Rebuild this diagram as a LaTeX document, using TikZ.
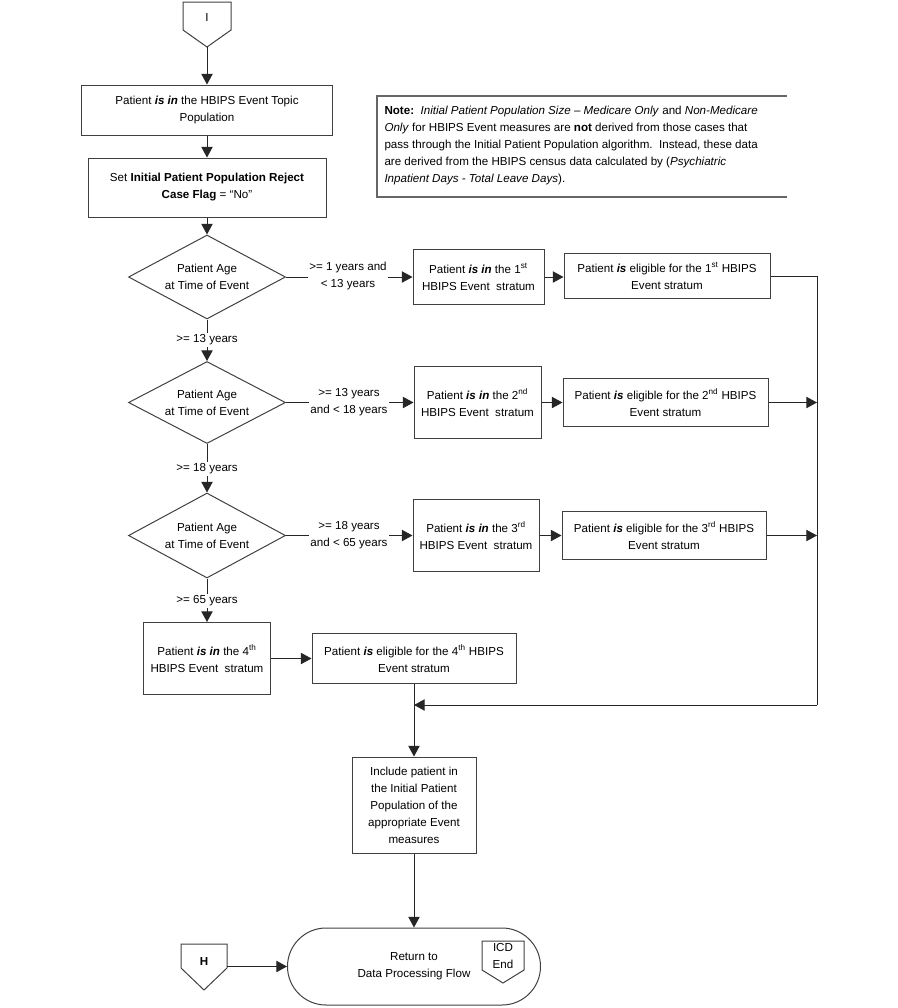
\documentclass[tikz,border=0pt]{standalone}
\usepackage{fontspec}
\setmainfont{Liberation Sans}
\usetikzlibrary{arrows.meta,shapes.geometric,shapes.misc}
\newcommand\pxu{0.75pt}
\begin{document}
\begin{tikzpicture}[x=0.75pt,y=-0.75pt,
  font=\fontsize{8.7pt}{12.75pt}\selectfont,
  line width=0.75pt,
  ln/.style={draw=black!85},
  arr/.style={ln,-{Triangle[length=8pt,width=8.5pt]}},
  sz/.style 2 args={minimum width=#1*\pxu, minimum height=#2*\pxu},
  box/.style={draw=black!75, rectangle, inner sep=0pt, align=center},
  dia/.style={draw=black!75, diamond, shape aspect=1.87, inner sep=0pt, align=center},
  lab/.style={fill=white, inner sep=1pt, align=center},
  pent/.style={draw=black!75, line join=miter},
  notel/.style={draw=black!60, line width=1.1pt},
]
\useasboundingbox (0,0) rectangle (898,1008);

% off-page connector I
\draw[pent] (183,2) -- (231,2) -- (231,30) -- (207,47) -- (183,30) -- cycle;
\coordinate (Ip) at (207,47);
\node[inner sep=0] (I) at (207,18) {I};

\node[box, sz={251}{50}] (b1) at (207,110) {Patient \textbf{\textit{is in}} the HBIPS Event Topic\\Population};
\node[box, sz={238}{59}] (b2) at (207,187.5) {Set \textbf{Initial Patient Population Reject}\\\textbf{Case Flag} = “No”};

% note
\draw[notel] (787,96) -- (377,96) -- (377,197) -- (787,197);
\node[anchor=north west, align=left, inner sep=0] (note) at (384,106)
{\textbf{Note:}\ \ \textit{Initial Patient Population Size – Medicare Only} and \textit{Non-Medicare}\\
\textit{Only} for HBIPS Event measures are \textbf{not} derived from those cases that\\
pass through the Initial Patient Population algorithm.\ \ Instead, these data\\
are derived from the HBIPS census data calculated by (\textit{Psychiatric}\\
\textit{Inpatient Days - Total Leave Days}).};

% diamonds
\node[dia, sz={157}{84}] (d1) at (207,277) {Patient Age\\at Time of Event};
\node[dia, sz={157}{82}] (d2) at (207,402.5) {Patient Age\\at Time of Event};
\node[dia, sz={157}{85}] (d3) at (207,535.5) {Patient Age\\at Time of Event};

% stratum boxes
\node[box, sz={131}{55}] (s1) at (478.5,277) {Patient \textbf{\textit{is in}} the 1\textsuperscript{st}\\HBIPS Event\ \ stratum};
\node[box, sz={127}{72}] (s2) at (477.5,402.5) {Patient \textbf{\textit{is in}} the 2\textsuperscript{nd}\\HBIPS Event\ \ stratum};
\node[box, sz={126}{72}] (s3) at (476,535.5) {Patient \textbf{\textit{is in}} the 3\textsuperscript{rd}\\HBIPS Event\ \ stratum};
\node[box, sz={127}{72}] (s4) at (207,658.5) {Patient \textbf{\textit{is in}} the 4\textsuperscript{th}\\HBIPS Event\ \ stratum};

\node[box, sz={206}{45}] (e1) at (667,276) {Patient \textbf{\textit{is}} eligible for the 1\textsuperscript{st} HBIPS\\Event stratum};
\node[box, sz={205}{48}] (e2) at (665.5,402.5) {Patient \textbf{\textit{is}} eligible for the 2\textsuperscript{nd} HBIPS\\Event stratum};
\node[box, sz={204}{48}] (e3) at (664,535.5) {Patient \textbf{\textit{is}} eligible for the 3\textsuperscript{rd} HBIPS\\Event stratum};
\node[box, sz={204}{50}] (e4) at (414,658.5) {Patient \textbf{\textit{is}} eligible for the 4\textsuperscript{th} HBIPS\\Event stratum};

\node[box, sz={124}{96}] (inc) at (414,805) {Include patient in\\the Initial Patient\\Population of the\\appropriate Event\\measures};

\node[draw=black!75, rounded rectangle, sz={253}{77}, inner sep=0pt, align=center] (term) at (414,966.5) {Return to\\Data Processing Flow};

% ICD End connector
\draw[pent] (482,941) -- (524,941) -- (524,970) -- (503,983) -- (482,970) -- cycle;
\node[align=center, inner sep=0] (icd) at (503,955.5) {ICD\\End};

% H connector
\draw[pent] (181,944) -- (227,944) -- (227,968) -- (204,990) -- (181,968) -- cycle;
\node[inner sep=0] (H) at (204,961) {\textbf{H}};
\coordinate (Hr) at (227,966.5);

% junction
\coordinate (jr) at (817,705);
\coordinate (jl) at (414,705);

% connectors
\draw[arr] (Ip) -- (b1.north);
\draw[arr] (b1.south) -- (b2.north);
\draw[arr] (b2.south) -- (d1.north);
\draw[arr] (d1.south) -- (d2.north);
\draw[arr] (d2.south) -- (d3.north);
\draw[arr] (d3.south) -- (s4.north);
\draw[arr] (d1.east) -- (s1.west);
\draw[arr] (d2.east) -- (s2.west);
\draw[arr] (d3.east) -- (s3.west);
\draw[arr] (s1.east) -- (s1.east -| e1.west);
\draw[arr] (s2.east) -- (e2.west);
\draw[arr] (s3.east) -- (e3.west);
\draw[arr] (s4.east) -- (e4.west);
\draw[ln] (e1.east) -| (jr);
\draw[arr] (e2.east) -- (e2.east -| jr);
\draw[arr] (e3.east) -- (e3.east -| jr);
\draw[arr] (jr) -- (jl);
\draw[arr] (e4.south) -- (inc.north);
\draw[arr] (inc.south) -- (term.north);
\draw[arr] (Hr) -- (term.west);

% labels
\node[lab] (l1) at (348,276) {>= 1 years and\\< 13 years};
\node[lab] (l2) at (349,402.5) {>= 13 years\\and < 18 years};
\node[lab] (l3) at (349,535.5) {>= 18 years\\and < 65 years};
\node[lab] (v1) at (207,340) {>= 13 years};
\node[lab] (v2) at (207,469) {>= 18 years};
\node[lab] (v3) at (207,601) {>= 65 years};
\end{tikzpicture}
\end{document}
